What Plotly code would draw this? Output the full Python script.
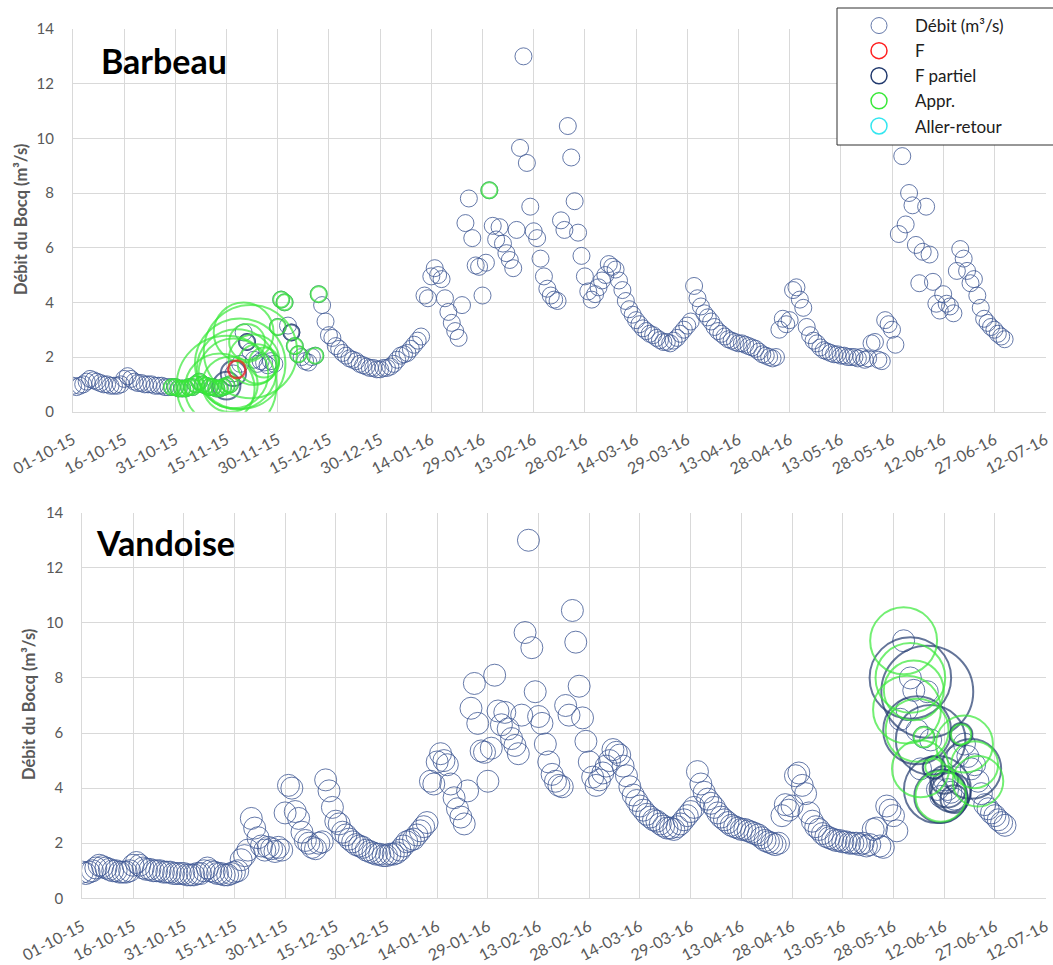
import pandas as pd
import plotly.graph_objects as go

# ---------------- Data: daily discharge of the Bocq (m3/s), Oct 2015 - Jun 2016
debit_oct = [0.95, 0.9, 0.95, 1.0, 1.1, 1.2, 1.15, 1.1, 1.05, 1.0, 1.0, 0.95, 0.95, 0.95, 1.0, 1.2,
             1.3, 1.2, 1.1, 1.05, 1.05, 1.0, 1.0, 1.0, 0.95, 0.95, 0.95, 0.9, 0.9, 0.9, 0.9]
debit_nov = [0.85, 0.85, 0.85, 0.9, 0.9, 1.0, 1.1, 1.0, 0.95, 0.9, 0.9, 0.85, 0.85, 0.9, 0.95,
             1.0, 1.4, 1.55, 1.75, 2.9, 2.55, 2.2, 1.9, 1.75, 1.85, 1.8, 1.7, 1.85, 1.75, 3.1]
debit_dec = [4.1, 4.0, 3.15, 2.9, 2.4, 2.1, 2.0, 1.85, 1.8, 2.0, 2.05, 4.3, 3.9, 3.3, 2.8, 2.7,
             2.4, 2.3, 2.15, 2.05, 1.95, 1.9, 1.85, 1.75, 1.7, 1.65, 1.6, 1.6, 1.55, 1.55, 1.6]
debit_jan = [1.6, 1.65, 1.75, 1.9, 2.05, 2.1, 2.15, 2.3, 2.45, 2.6, 2.75, 4.25, 4.15, 4.95, 5.25,
             5.0, 4.85, 4.15, 3.65, 3.25, 2.95, 2.7, 3.9, 6.9, 7.8, 6.35, 5.35, 5.3, 4.25, 5.45, 8.1]
debit_feb = [6.8, 6.3, 6.75, 6.15, 5.8, 5.55, 5.25, 6.65, 9.65, 13.0, 9.1, 7.5, 6.6, 6.35, 5.6,
             4.95, 4.5, 4.25, 4.1, 4.05, 7.0, 6.65, 10.45, 9.3, 7.7, 6.55, 5.7, 4.95, 4.4]
debit_mar = [4.1, 4.3, 4.55, 4.8, 5.0, 5.4, 5.3, 5.2, 4.8, 4.45, 4.05, 3.75, 3.55, 3.35, 3.2, 3.05,
             2.95, 2.85, 2.8, 2.7, 2.62, 2.55, 2.55, 2.5, 2.6, 2.7, 2.85, 3.0, 3.15, 3.3, 4.6]
debit_apr = [4.15, 3.85, 3.6, 3.45, 3.3, 3.1, 2.95, 2.85, 2.75, 2.65, 2.6, 2.55, 2.5, 2.5, 2.45,
             2.4, 2.35, 2.3, 2.2, 2.1, 2.05, 2.0, 1.95, 2.0, 3.0, 3.4, 3.2, 3.35, 4.45, 4.55]
debit_may = [4.1, 3.8, 3.1, 2.8, 2.6, 2.5, 2.35, 2.25, 2.2, 2.15, 2.1, 2.1, 2.05, 2.05, 2.0, 2.0,
             2.0, 1.95, 2.0, 1.9, 1.95, 2.5, 2.55, 1.9, 1.85, 3.35, 3.2, 3.0, 2.45, 6.5, 9.35]
debit_jun = [6.85, 8.0, 7.55, 6.1, 4.7, 5.85, 7.5, 5.75, 4.75, 3.95, 3.7, 4.3, 3.95, 3.85, 3.6,
             5.15, 5.95, 5.6, 5.15, 4.7, 4.85, 4.25, 3.8, 3.4, 3.25, 3.1, 3.0, 2.85, 2.75, 2.65]

tick_labels = ["01-10-15", "16-10-15", "31-10-15", "15-11-15", "30-11-15", "15-12-15", "30-12-15",
               "14-01-16", "29-01-16", "13-02-16", "28-02-16", "14-03-16", "29-03-16", "13-04-16",
               "28-04-16", "13-05-16", "28-05-16", "12-06-16", "27-06-16", "12-07-16"]
y_ticks = [0, 2, 4, 6, 8, 10, 12, 14]

# ---------------- Fish positions (date, bubble weight)
barbeau_appr_dates = ["2015-10-30", "2015-10-31", "2015-11-01", "2015-11-02", "2015-11-03", "2015-11-04",
                      "2015-11-05", "2015-11-06", "2015-11-07", "2015-11-08", "2015-11-09", "2015-11-10",
                      "2015-11-11", "2015-11-12", "2015-11-13", "2015-11-14", "2015-11-15", "2015-11-16",
                      "2015-11-13", "2015-11-15", "2015-11-16", "2015-11-17", "2015-11-18", "2015-11-19",
                      "2015-11-20", "2015-11-21", "2015-11-22", "2015-11-23", "2015-11-24", "2015-11-26",
                      "2015-11-30", "2015-12-01", "2015-12-02", "2015-12-05", "2015-12-06", "2015-12-11",
                      "2015-12-12", "2016-01-31"]
barbeau_appr_n = [1, 1, 1, 1, 1, 1, 1, 1, 1, 1, 1, 1, 1, 1, 1, 1, 1, 1,
                  19, 39, 12, 19, 25, 32, 14, 5, 34, 10, 6, 3.5,
                  1, 1, 1, 1, 1, 1, 1, 1]
barbeau_fp_dates = ["2015-11-15", "2015-11-17", "2015-11-21", "2015-12-04"]
barbeau_fp_n = [3, 2.5, 1, 1]
barbeau_f_dates = ["2015-11-18"]
barbeau_f_n = [1.2]

vandoise_appr_dates = ["2016-05-31", "2016-06-01", "2016-06-02", "2016-06-03", "2016-06-04", "2016-06-05",
                       "2016-06-06", "2016-06-09", "2016-06-11", "2016-06-17", "2016-06-18", "2016-06-21",
                       "2016-06-22"]
vandoise_appr_n = [17.5, 18, 19, 14, 15.5, 12.7, 1.6, 1.2, 10, 1.6, 12.7, 8.6, 10]
vandoise_fp_dates = ["2016-06-02", "2016-06-07", "2016-06-04", "2016-06-08", "2016-06-10", "2016-06-11",
                     "2016-06-20", "2016-06-09", "2016-06-12", "2016-06-13", "2016-06-14", "2016-06-15",
                     "2016-06-17"]
vandoise_fp_n = [26, 33, 18, 19, 17.5, 11, 14, 2, 3, 5, 6, 3, 2]

legend_names = ["Débit (m³/s)", "F", "F partiel", "Appr.", "Aller-retour"]

# ---------------- Build
debit = debit_oct + debit_nov + debit_dec + debit_jan + debit_feb + debit_mar + debit_apr + debit_may + debit_jun
dates = pd.date_range("2015-10-01", periods=len(debit), freq="D")
serie = pd.Series(debit, index=dates)
tick_vals = pd.to_datetime(tick_labels, format="%d-%m-%y")


def at(ds):
    return [float(serie[pd.Timestamp(d)]) for d in ds]


W, H = 1053, 965
FONT = "Lato"
C_DEBIT = "rgba(62,88,148,0.8)"
C_F = "#ff1f1f"
C_FP = "#223a6e"
C_APPR = "#38e838"
C_AR = "#33e6f0"
SIZEREF = 1 / 128.0

fig = go.Figure()


def bubbles(ds, n, color, width, xa, ya):
    fig.add_trace(go.Scatter(
        x=pd.to_datetime(ds), y=at(ds), mode="markers", xaxis=xa, yaxis=ya, showlegend=False,
        hoverinfo="skip",
        marker=dict(symbol="circle-open", size=n, sizemode="area", sizeref=SIZEREF,
                    color=color, line=dict(width=width))))


for xa, ya, msize in (("x", "y", 17), ("x2", "y2", 22)):
    fig.add_trace(go.Scatter(
        x=dates, y=debit, mode="markers", xaxis=xa, yaxis=ya, showlegend=False, hoverinfo="skip",
        marker=dict(symbol="circle-open", size=msize, color=C_DEBIT, line=dict(width=1))))

bubbles(barbeau_fp_dates, barbeau_fp_n, C_FP, 2, "x", "y")
bubbles(barbeau_appr_dates, barbeau_appr_n, C_APPR, 2, "x", "y")
bubbles(barbeau_f_dates, barbeau_f_n, C_F, 2.5, "x", "y")
bubbles(vandoise_fp_dates, vandoise_fp_n, C_FP, 2, "x2", "y2")
bubbles(vandoise_appr_dates, vandoise_appr_n, C_APPR, 2, "x2", "y2")

# legend entries
for name, col, w in zip(legend_names, (C_DEBIT, C_F, C_FP, C_APPR, C_AR), (1, 1.5, 1.5, 1.5, 1.5)):
    fig.add_trace(go.Scatter(x=[None], y=[None], mode="markers", name=name,
                             marker=dict(symbol="circle-open", size=17, color=col, line=dict(width=w))))

grid = "#d9d9d9"
xtickfont = dict(family=FONT, size=16, color="#595959")
ytickfont = dict(family=FONT, size=15, color="#595959")
end = tick_vals[-1] + pd.Timedelta(hours=3)
xcommon = dict(type="date", range=[tick_vals[0], end], tickvals=tick_vals, ticktext=tick_labels,
               tickangle=-28, showgrid=True, gridcolor=grid, gridwidth=1, showline=True, linecolor=grid,
               zeroline=False, ticks="", tickfont=xtickfont, ticklabelstandoff=12, automargin=False,
               ticklabeloverflow="allow")
ycommon = dict(range=[0, 14], tickvals=y_ticks, showgrid=True, gridcolor=grid, gridwidth=1, showline=True,
               linecolor=grid, zeroline=False, ticks="", tickfont=ytickfont, ticklabelstandoff=15,
               automargin=False)

top = (29, 411.7)
bot = (512.7, 898.3)
XR = 1046
fig.update_layout(
    width=W, height=H, margin=dict(l=0, r=0, t=0, b=0, autoexpand=False),
    paper_bgcolor="white", plot_bgcolor="white",
    xaxis=dict(domain=[73 / W, XR / W], anchor="y", **xcommon),
    yaxis=dict(domain=[1 - top[1] / H, 1 - top[0] / H], anchor="x", **ycommon),
    xaxis2=dict(domain=[82.3 / W, XR / W], anchor="y2", **xcommon),
    yaxis2=dict(domain=[1 - bot[1] / H, 1 - bot[0] / H], anchor="x2", **ycommon),
    legend=dict(x=843 / W, y=1 - 8 / H, xanchor="left", yanchor="top", bgcolor="rgba(0,0,0,0)",
                borderwidth=0, tracegroupgap=0, itemwidth=62,
                font=dict(family=FONT, size=17, color="#202020")),
    shapes=[dict(type="rect", xref="paper", yref="paper", x0=837 / W, x1=1.02, y0=1 - 145 / H,
                 y1=1 - 8 / H, line=dict(color="#303030", width=1), fillcolor="white", layer="above")],
    annotations=[
        dict(text="<b>Barbeau</b>", x=99 / W, y=1 - 60 / H, xref="paper", yref="paper", xanchor="left",
             yanchor="middle", showarrow=False, font=dict(family=FONT, size=34, color="black")),
        dict(text="<b>Vandoise</b>", x=94 / W, y=1 - 542 / H, xref="paper", yref="paper", xanchor="left",
             yanchor="middle", showarrow=False, font=dict(family=FONT, size=34, color="black")),
        dict(text="<b>Débit du Bocq (m³/s)</b>", x=21 / W, y=1 - 220 / H, xref="paper", yref="paper",
             xanchor="center", yanchor="middle", textangle=-90, showarrow=False,
             font=dict(family=FONT, size=16.5, color="#595959")),
        dict(text="<b>Débit du Bocq (m³/s)</b>", x=29 / W, y=1 - 705 / H, xref="paper", yref="paper",
             xanchor="center", yanchor="middle", textangle=-90, showarrow=False,
             font=dict(family=FONT, size=16.5, color="#595959")),
    ],
)

fig.write_html("out.html", config={"displayModeBar": False},
               post_script="document.body.style.margin='0';")
